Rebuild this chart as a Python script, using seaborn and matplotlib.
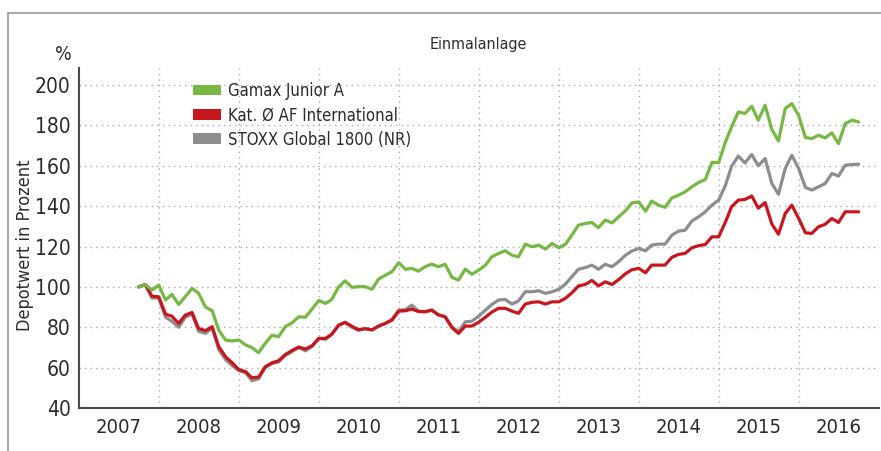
import matplotlib
matplotlib.use("Agg")
import matplotlib.pyplot as plt
from matplotlib.patches import Patch, Rectangle
import seaborn as sns
import pandas as pd

# ---------------- data (monthly) ----------------
start_month = "2007-09-30"
n_months = 109

gamax = [100, 101.2, 98.4, 100.9, 93.5, 96.3, 91.3, 95.1, 99.3, 96.8, 90.1, 88.2,
         78.6, 73.7, 73.2, 73.7, 71.2, 70.0, 67.4, 72.0, 76.1, 75.3, 80.3, 82.2,
         85.2, 85.0, 89.0, 93.3, 91.8, 93.8, 99.9, 103.0, 99.8, 100.1, 100.1, 98.8,
         103.9, 105.8, 107.5, 112.0, 108.7, 109.2, 107.8, 110.0, 111.3, 110.0, 111.2, 104.7,
         103.4, 108.8, 106.3, 108.3, 110.8, 114.9, 116.6, 117.9, 115.7, 114.9, 121.2, 119.9,
         120.7, 118.7, 121.5, 119.4, 121.2, 125.6, 130.6, 131.4, 131.9, 129.3, 133.1, 131.7,
         134.7, 137.7, 141.6, 142.1, 137.5, 142.5, 140.5, 139.4, 144.1, 145.4, 147.1, 149.6,
         151.7, 153.2, 161.6, 161.6, 171.8, 179.3, 186.7, 185.9, 189.5, 182.6, 190.0, 178.0,
         172.3, 188.4, 190.8, 185.0, 174.0, 173.5, 175.1, 173.8, 176.3, 171.0, 180.9, 182.6,
         181.7]

kat = [100, 101.2, 95.4, 95.1, 86.5, 85.5, 81.9, 86.0, 87.3, 79.4, 78.3, 80.3,
       70.4, 65.4, 62.4, 59.0, 58.0, 55.0, 55.3, 60.4, 62.4, 63.4, 66.5, 68.5,
       70.2, 69.2, 70.8, 74.5, 74.5, 76.5, 81.0, 82.4, 80.5, 78.8, 79.3, 78.7,
       80.6, 81.9, 83.5, 88.0, 88.2, 89.0, 87.8, 87.7, 88.5, 86.2, 85.2, 79.8,
       77.0, 80.6, 80.6, 82.5, 85.0, 87.5, 89.4, 89.4, 88.0, 86.9, 91.5, 92.4,
       92.6, 91.5, 92.6, 92.6, 94.4, 97.0, 100.5, 101.2, 103.2, 100.5, 102.5, 101.2,
       103.6, 106.5, 108.5, 109.2, 107.0, 110.8, 110.8, 110.8, 114.6, 116.1, 116.6, 119.4,
       120.4, 121.0, 124.8, 124.8, 132.2, 139.7, 143.0, 143.3, 145.0, 139.0, 141.8, 131.1,
       126.1, 136.4, 140.5, 134.0, 126.8, 126.5, 129.8, 131.0, 133.9, 131.9, 137.2, 137.2,
       137.2]

stoxx = [100, 101.0, 94.5, 94.5, 85.0, 83.0, 80.0, 85.0, 86.5, 78.0, 77.0, 79.5,
         69.0, 64.0, 61.0, 58.5, 57.5, 53.5, 54.5, 60.0, 62.0, 62.8, 66.0, 68.0,
         70.0, 68.3, 70.5, 74.5, 74.0, 76.5, 81.0, 82.5, 80.0, 78.5, 79.3, 78.7,
         80.6, 82.0, 84.0, 88.5, 88.7, 91.0, 88.0, 87.7, 88.5, 86.0, 85.2, 80.2,
         77.8, 82.7, 83.0, 85.5, 88.5, 91.3, 93.5, 93.8, 91.5, 93.1, 97.6, 97.6,
         98.1, 96.8, 97.6, 98.8, 101.5, 105.0, 108.8, 109.5, 110.8, 108.7, 111.2, 110.0,
         112.5, 115.7, 117.8, 119.0, 117.9, 120.7, 121.2, 121.2, 125.6, 127.6, 128.1, 132.7,
         134.7, 137.2, 140.5, 143.0, 150.4, 159.8, 164.8, 161.4, 165.6, 160.0, 163.6, 151.2,
         145.9, 158.7, 165.2, 158.7, 149.3, 148.0, 149.6, 151.2, 156.2, 154.9, 160.3, 160.6,
         160.8]

series_names = ["Gamax Junior A", "Kat. Ø AF International", "STOXX Global 1800 (NR)"]
series_colors = ["#76b843", "#c8161e", "#8d8d90"]
years = list(range(2007, 2017))
y_ticks = [40, 60, 80, 100, 120, 140, 160, 180, 200]
title = "Einmalanlage"
y_label = "Depotwert in Prozent"

# ---------------- build table ----------------
dates = pd.date_range(start_month, periods=n_months, freq="ME")
df = pd.concat([
    pd.DataFrame({"date": dates, "value": vals, "series": name})
    for name, vals in zip(series_names, [gamax, kat, stoxx])
], ignore_index=True)

# ---------------- style ----------------
sns.set_style("white")
plt.rcParams["font.family"] = ["DejaVu Sans"]
plt.rcParams["font.stretch"] = "condensed"
text_color = "#2b2b2b"
spine_color = "#4a4a4a"

fig = plt.figure(figsize=(8.81, 4.51), dpi=100)
ax = fig.add_axes([0.0897, 0.0953, 0.9080, 0.7533])

palette = dict(zip(series_names, series_colors))
draw_order = [series_names[2], series_names[1], series_names[0]]
sns.lineplot(data=df, x="date", y="value", hue="series", hue_order=draw_order,
             palette=palette, linewidth=2.3, legend=False, ax=ax)

ax.set_xlim(pd.Timestamp("2007-01-01"), pd.Timestamp("2017-01-01"))
ax.set_ylim(40, 208.3)

ax.set_yticks(y_ticks)
ax.set_yticklabels([str(v) for v in y_ticks])
ax.tick_params(axis="y", direction="out", length=3, width=1.2, color=spine_color,
               labelsize=15, labelcolor=text_color, pad=3)

ax.set_xticks([pd.Timestamp(f"{y}-01-01") for y in years[1:]])
ax.set_xticklabels([])
ax.set_xticks([pd.Timestamp(f"{y}-07-02") for y in years], minor=True)
ax.set_xticklabels([str(y) for y in years], minor=True)
ax.tick_params(axis="x", which="both", length=0, labelsize=14.5, labelcolor=text_color, pad=7)

ax.grid(True, which="major", axis="both", color="#a9a9a9", linestyle=(0, (1, 3)), linewidth=1.0)
ax.set_axisbelow(True)

for s in ["top", "right"]:
    ax.spines[s].set_visible(False)
for s in ["left", "bottom"]:
    ax.spines[s].set_color(spine_color)
    ax.spines[s].set_linewidth(1.5)

ax.set_xlabel("")
ax.set_ylabel(y_label, fontsize=13, color=text_color)
ax.yaxis.set_label_coords(-0.056, 0.48)

handles = [Patch(facecolor=c, edgecolor="none") for c in series_colors]
ax.legend(handles, series_names, loc="upper left", bbox_to_anchor=(0.1425, 0.96),
          frameon=False, fontsize=12, handlelength=1.65, handleheight=0.6,
          handletextpad=0.45, labelspacing=0.38, borderpad=0, borderaxespad=0,
          labelcolor=text_color)

fig.text(478 / 881, 1 - 45 / 451, title, ha="center", va="center", fontsize=11.5, color=text_color)
fig.text(63 / 881, 1 - 55 / 451, "%", ha="center", va="center", fontsize=14, color=text_color)

# outer frame (cut at right and bottom)
top = 1 - 13 / 451
fig.patches.append(Rectangle((8 / 881, -0.2), 1.5, top + 0.2,
                             transform=fig.transFigure, fill=False,
                             edgecolor="#9a9a9a", linewidth=1.2))

fig.savefig("out.png", dpi=100)
